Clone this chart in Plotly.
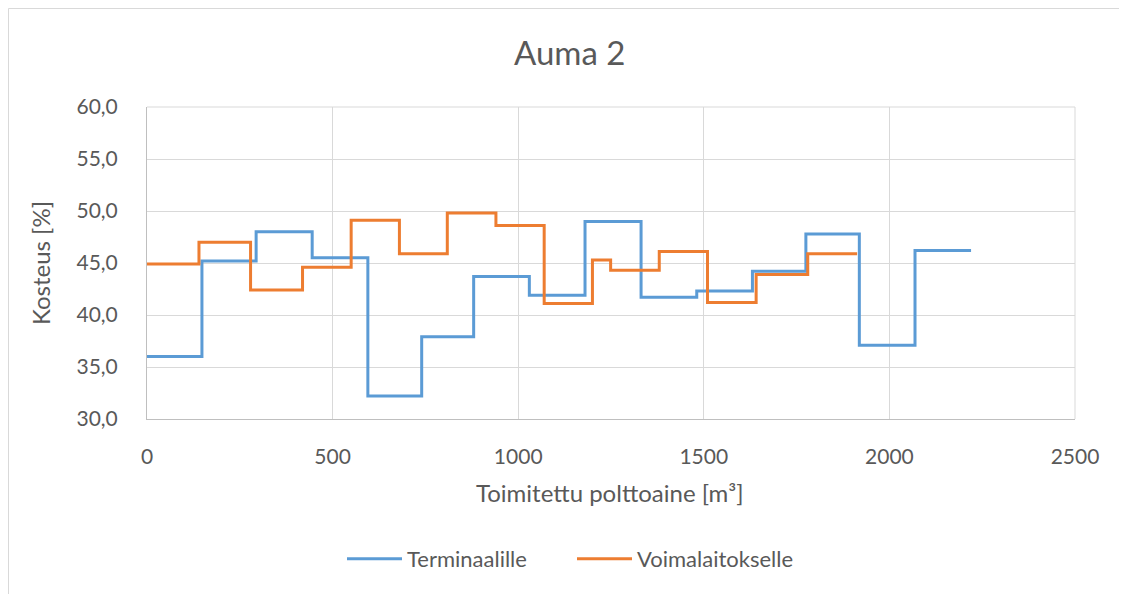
import plotly.graph_objects as go

# Terminaalille (blue) step starts and levels
term_x = [0, 148, 294, 445, 595, 740, 880, 1030, 1180, 1331, 1481, 1631, 1775, 1919, 2069, 2220]
term_y = [36.0, 45.2, 48.0, 45.5, 32.2, 37.9, 43.7, 41.9, 49.0, 41.7, 42.3, 44.2, 47.8, 37.1, 46.2, 46.2]

# Voimalaitokselle (orange) step starts and levels
voima_x = [0, 140, 279, 419, 550, 680, 809, 940, 1070, 1200, 1249, 1380, 1510, 1641, 1780, 1913]
voima_y = [44.9, 47.0, 42.4, 44.6, 49.1, 45.9, 49.8, 48.6, 41.1, 45.3, 44.3, 46.1, 41.2, 43.9, 45.9, 45.9]

title_text = "Auma 2"
x_title = "Toimitettu polttoaine [m³]"
y_title = "Kosteus [%]"

OFF = 8  # browser body margin
W, H = 1127 - OFF, 594 - OFF
L, T = 147 - OFF, 107 - OFF
R = W - (1075 - OFF)
B = H - (419 - OFF)
pw, ph = W - L - R, H - T - B

font_family = "Lato, Carlito, sans-serif"
txt = "#595959"

fig = go.Figure()
fig.add_trace(go.Scatter(x=term_x, y=term_y, mode="lines", line_shape="hv",
                         name="Terminaalille", line=dict(color="#5B9BD5", width=3)))
fig.add_trace(go.Scatter(x=voima_x, y=voima_y, mode="lines", line_shape="hv",
                         name="Voimalaitokselle", line=dict(color="#ED7D31", width=3)))

def px_x(p):
    return (p - OFF - L) / pw

def px_y(p):
    return (H - B - (p - OFF)) / ph

fig.update_layout(
    width=W, height=H,
    margin=dict(l=L, r=R, t=T, b=B),
    paper_bgcolor="white", plot_bgcolor="white",
    separators=", ",
    font=dict(family=font_family, color=txt, size=21),
    showlegend=True,
    legend=dict(orientation="h", x=px_x(572), xanchor="center", y=px_y(559), yanchor="middle",
                font=dict(size=22, color=txt), itemwidth=55, traceorder="normal",
                entrywidth=160),
    xaxis=dict(range=[0, 2500], dtick=500, tickformat="d", showgrid=True, gridcolor="#D9D9D9",
               gridwidth=1, showline=True, linecolor="#BFBFBF", linewidth=1, zeroline=False,
               ticks="", ticklabelstandoff=19, tickfont=dict(size=21, color=txt)),
    yaxis=dict(range=[30, 60], dtick=5, tickformat=".1f", showgrid=True, gridcolor="#D9D9D9",
               gridwidth=1, showline=True, linecolor="#BFBFBF", linewidth=1, zeroline=False,
               ticks="", ticklabelstandoff=24, tickfont=dict(size=21, color=txt)),
    annotations=[
        dict(text=title_text, x=px_x(569), y=px_y(52), xref="paper", yref="paper",
             showarrow=False, font=dict(size=33, color=txt),
             xanchor="center", yanchor="middle"),
        dict(text=x_title, x=px_x(610), y=px_y(492), xref="paper", yref="paper",
             showarrow=False, font=dict(size=24, color=txt), xanchor="center", yanchor="middle"),
        dict(text=y_title, x=px_x(40), y=px_y(263), xref="paper", yref="paper", textangle=-90,
             showarrow=False, font=dict(size=24, color=txt), xanchor="center", yanchor="middle"),
    ],
    shapes=[
        dict(type="rect", xref="paper", yref="paper", x0=px_x(8.5), y0=px_y(610), x1=px_x(1140), y1=px_y(8.5),
             line=dict(color="#D9D9D9", width=1), fillcolor="rgba(0,0,0,0)", layer="below"),
        dict(type="line", xref="paper", yref="paper", x0=1, x1=1, y0=0, y1=1,
             line=dict(color="#D9D9D9", width=1)),
        dict(type="line", xref="paper", yref="paper", x0=0, x1=1, y0=1, y1=1,
             line=dict(color="#D9D9D9", width=1)),
    ],
)

fig.write_html("out.html")
